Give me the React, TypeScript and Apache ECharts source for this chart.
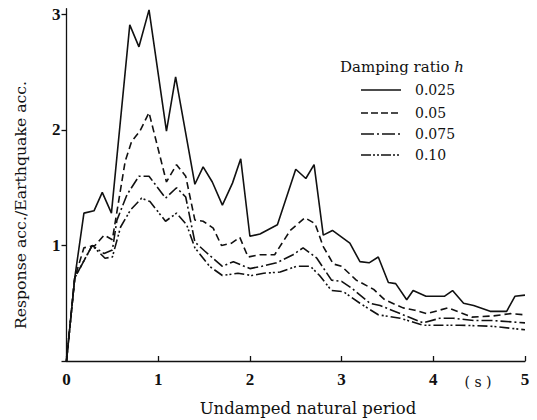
import React, { useEffect, useRef } from "react";
import * as echarts from "echarts";

const seriesNames = ["0.025", "0.05", "0.075", "0.10"];

const h025: [number, number][] = [
  [0, 0], [0.09, 0.72], [0.19, 1.28], [0.30, 1.30], [0.39, 1.46], [0.49, 1.28],
  [0.69, 2.91], [0.79, 2.72], [0.90, 3.04], [1.09, 1.99], [1.19, 2.46], [1.40, 1.53],
  [1.49, 1.68], [1.59, 1.55], [1.70, 1.35], [1.81, 1.54], [1.90, 1.75], [2.00, 1.08],
  [2.11, 1.10], [2.30, 1.18], [2.50, 1.66], [2.61, 1.58], [2.70, 1.70], [2.80, 1.09],
  [2.90, 1.13], [3.09, 1.02], [3.20, 0.86], [3.30, 0.85], [3.40, 0.90], [3.51, 0.68],
  [3.59, 0.67], [3.71, 0.53], [3.78, 0.61], [3.92, 0.56], [4.12, 0.56], [4.21, 0.61],
  [4.33, 0.50], [4.44, 0.48], [4.62, 0.43], [4.80, 0.43], [4.89, 0.56], [5.0, 0.57],
];

const h05: [number, number][] = [
  [0, 0], [0.09, 0.72], [0.19, 0.98], [0.31, 1.00], [0.41, 1.09], [0.50, 1.05],
  [0.64, 1.73], [0.71, 1.90], [0.80, 1.99], [0.90, 2.15], [1.09, 1.55], [1.20, 1.70],
  [1.30, 1.60], [1.40, 1.22], [1.49, 1.21], [1.60, 1.15], [1.69, 1.00], [1.80, 1.02],
  [1.89, 1.07], [1.98, 0.90], [2.11, 0.92], [2.27, 0.92], [2.44, 1.13], [2.60, 1.24],
  [2.71, 1.19], [2.80, 0.99], [2.91, 0.84], [3.00, 0.82], [3.16, 0.70], [3.35, 0.62],
  [3.47, 0.53], [3.67, 0.46], [3.80, 0.44], [3.93, 0.41], [4.16, 0.46], [4.42, 0.38],
  [4.65, 0.39], [4.84, 0.41], [5.0, 0.40],
];

const h075: [number, number][] = [
  [0, 0], [0.09, 0.72], [0.28, 1.00], [0.41, 0.93], [0.50, 0.96], [0.55, 1.22],
  [0.66, 1.44], [0.79, 1.60], [0.90, 1.60], [1.08, 1.41], [1.20, 1.50], [1.30, 1.42],
  [1.40, 1.03], [1.51, 0.95], [1.70, 0.82], [1.82, 0.86], [2.00, 0.80], [2.13, 0.82],
  [2.29, 0.85], [2.47, 0.92], [2.58, 0.98], [2.73, 0.89], [2.89, 0.70], [3.00, 0.69],
  [3.11, 0.63], [3.31, 0.50], [3.42, 0.48], [3.64, 0.41], [3.89, 0.33], [4.07, 0.37],
  [4.22, 0.37], [4.44, 0.35], [4.65, 0.35], [5.0, 0.33],
];

const h10: [number, number][] = [
  [0, 0], [0.09, 0.72], [0.28, 1.00], [0.42, 0.89], [0.50, 0.90], [0.59, 1.16],
  [0.70, 1.31], [0.82, 1.41], [0.91, 1.38], [1.08, 1.21], [1.20, 1.28], [1.31, 1.18],
  [1.40, 0.98], [1.56, 0.82], [1.70, 0.74], [1.87, 0.76], [2.02, 0.74], [2.15, 0.76],
  [2.33, 0.77], [2.51, 0.82], [2.66, 0.82], [2.76, 0.74], [2.89, 0.61], [3.02, 0.60],
  [3.20, 0.50], [3.40, 0.40], [3.64, 0.37], [3.89, 0.31], [4.07, 0.31], [4.29, 0.31],
  [4.65, 0.30], [5.0, 0.27],
];

const xTicks = [0, 1, 2, 3, 4, 5];
const yTickLabels = [1, 2, 3];

const INK = "#111";
const SERIF = "'DejaVu Serif', 'Liberation Serif', serif";
const TICKFONT = "'Liberation Serif', serif";

export default function App() {
  const ref = useRef<HTMLDivElement>(null);
  useEffect(() => {
    if (!ref.current) return;
    const chart = echarts.init(ref.current, undefined, { renderer: "svg" });
    const dashes: any[] = ["solid", [7, 4], [11, 3, 2, 3], [10, 3, 2, 2, 2, 3]];
    const legendDash: any[] = [null, [7, 3], [13, 3, 2, 3], [10, 2, 2, 2, 2, 2]];
    const datasets = [h025, h05, h075, h10];
    const rowY = [90, 113, 134, 155];
    const legendGraphics: any[] = [];
    seriesNames.forEach((name, i) => {
      legendGraphics.push({
        type: "line",
        shape: { x1: 361, y1: rowY[i], x2: 401, y2: rowY[i] },
        style: { stroke: INK, lineWidth: 1.6, lineDash: legendDash[i] || undefined },
      });
      legendGraphics.push({
        type: "text",
        x: 415,
        y: rowY[i],
        style: {
          text: name,
          fontFamily: SERIF,
          fontSize: 14,
          fill: INK,
          align: "left",
          verticalAlign: "middle",
        },
      });
    });
    chart.setOption({
      animation: false,
      backgroundColor: "#fff",
      grid: { left: 66.5, right: 12, top: 8.7, bottom: 59, outerBoundsMode: "none" },
      xAxis: {
        type: "value",
        min: 0,
        max: 5,
        interval: 1,
        axisLine: { lineStyle: { color: INK, width: 1.3 } },
        axisTick: { inside: true, length: 5, lineStyle: { color: INK, width: 1.3 } },
        axisLabel: {
          margin: 10,
          color: INK,
          fontFamily: TICKFONT,
          fontWeight: "bold",
          fontSize: 17,
          formatter: (v: number) => (xTicks.includes(v) ? String(v) : ""),
        },
        splitLine: { show: false },
      },
      yAxis: {
        type: "value",
        min: 0,
        max: 3.05,
        interval: 1,
        axisLine: { show: true, lineStyle: { color: INK, width: 1.3 } },
        axisTick: { show: true, length: 5, lineStyle: { color: INK, width: 1.3 } },
        axisLabel: {
          margin: 6,
          color: INK,
          fontFamily: TICKFONT,
          fontWeight: "bold",
          fontSize: 17,
          showMaxLabel: false,
          formatter: (v: number) => (yTickLabels.includes(v) ? String(v) : ""),
        },
        splitLine: { show: false },
      },
      graphic: [
        {
          type: "text",
          left: 340,
          top: 59,
          style: {
            text: "{a|Damping ratio }{b|h}",
            rich: {
              a: { fontFamily: SERIF, fontSize: 15, fill: INK },
              b: { fontFamily: SERIF, fontSize: 15, fontStyle: "italic", fill: INK },
            },
          },
        },
        ...legendGraphics,
        {
          type: "text",
          x: 308,
          y: 408,
          style: {
            text: "Undamped natural period",
            fontFamily: SERIF,
            fontSize: 16.5,
            fill: INK,
            align: "center",
            verticalAlign: "middle",
          },
        },
        {
          type: "text",
          x: 20,
          y: 205,
          rotation: Math.PI / 2,
          style: {
            text: "Response acc./Earthquake acc.",
            fontFamily: SERIF,
            fontSize: 15.7,
            fill: INK,
            align: "center",
            verticalAlign: "middle",
          },
        },
        {
          type: "text",
          x: 478,
          y: 382,
          style: {
            text: "( s )",
            fontFamily: SERIF,
            fontSize: 14,
            fill: INK,
            align: "center",
            verticalAlign: "middle",
          },
        },
      ],
      series: datasets.map((d, i) => ({
        name: seriesNames[i],
        type: "line",
        data: d,
        symbol: "none",
        lineStyle: { color: INK, width: 1.6, type: dashes[i] },
        itemStyle: { color: INK },
      })),
    });
    return () => chart.dispose();
  }, []);
  return <div ref={ref} style={{ width: 537, height: 420, position: "absolute", left: 0, top: 0 }} />;
}
